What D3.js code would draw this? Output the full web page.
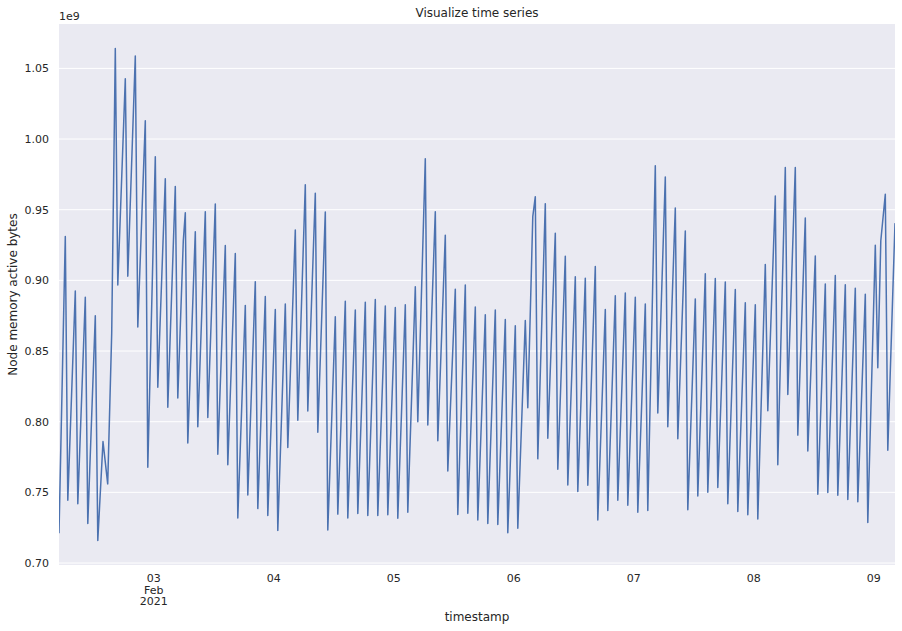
<!DOCTYPE html>
<html><head><meta charset="utf-8">
<script src="https://cdn.jsdelivr.net/npm/d3@7"></script>
<style>
body{margin:0;background:#fff}
svg{display:block}
text{font-family:"DejaVu Sans",sans-serif;fill:#262626}
</style>
</head><body>
<svg id="chart" width="902" height="631"></svg>
<script>
const title = "Visualize time series";
const xLabel = "timestamp";
const yLabel = "Node memory active bytes";
const offsetLabel = "1e9";
const baseTime = Date.UTC(2021, 1, 3); // 2021-02-03 00:00
// sample times, in hours from 2021-02-03 00:00
const hours = [
  -18.86,
  -17.6, -17.1, -15.6, -15.1, -13.6, -13.1, -11.6, -11.1,
  -10.06, -9.12, -8.32,
  -7.6, -7.1, -5.6, -5.1, -3.6, -3.1, -1.6, -1.1,
  0.4, 0.9, 2.4, 2.9, 4.4, 4.9, 6.0,
  6.4, 6.9, 8.4, 8.9, 10.4, 10.9, 12.4, 12.9, 14.4, 14.9, 16.4, 16.9, 18.4, 18.9,
  20.4, 20.9, 22.4, 22.9, 24.4, 24.9, 26.4, 26.9, 28.4, 28.9, 30.4, 30.9,
  32.4, 32.9, 34.4, 34.9, 36.4, 36.9, 38.4, 38.9, 40.4, 40.9, 42.4, 42.9,
  44.4, 44.9, 46.4, 46.9, 48.4, 48.9, 50.4, 50.9, 52.4, 52.9, 54.4, 54.9,
  56.4, 56.9, 58.4, 58.9, 60.4, 60.9, 62.4, 62.9, 64.4, 64.9, 66.4, 66.9,
  68.4, 68.9, 70.4, 70.9, 72.4, 72.9, 74.4, 74.9, 75.9,
  76.4, 76.9, 78.4, 78.9, 80.4, 80.9, 82.4, 82.9, 84.4, 84.9, 86.4, 86.9,
  88.4, 88.9, 90.4, 90.9, 92.4, 92.9, 94.4, 94.9, 96.4, 96.9, 98.4, 98.9,
  100.4, 100.9, 102.4, 102.9, 104.4, 104.9, 106.4, 106.9, 108.4, 108.9,
  110.4, 110.9, 112.4, 112.9, 114.4, 114.9, 116.4, 116.9, 118.4, 118.9,
  120.4, 120.9, 122.4, 122.9, 124.4, 124.9, 126.4, 126.9, 128.4, 128.9,
  130.4, 130.9, 132.4, 132.9, 134.4, 134.9, 136.4, 136.9, 138.4, 138.9,
  140.4, 140.9, 142.4, 142.9, 144.4, 144.9, 145.5,
  146.4, 146.9, 148.34
];
// node memory active bytes, in units of 1e9
const valuesE9 = [
  0.721,
  0.931, 0.7445, 0.8925, 0.742, 0.888, 0.728, 0.875, 0.716,
  0.786, 0.756, 0.8626,
  1.064, 0.8967, 1.0427, 0.903, 1.0588, 0.867, 1.013, 0.7677,
  0.9874, 0.8244, 0.9719, 0.8103, 0.9665, 0.8168, 0.928,
  0.9478, 0.785, 0.9344, 0.7964, 0.9485, 0.803, 0.9541, 0.7769, 0.9247, 0.7696, 0.919, 0.7319, 0.8823, 0.7482,
  0.8991, 0.7385, 0.8886, 0.7336, 0.8794, 0.7231, 0.8833, 0.7818, 0.9356, 0.801, 0.9677, 0.8076,
  0.9616, 0.7925, 0.9483, 0.7233, 0.8743, 0.7346, 0.8852, 0.7319, 0.8791, 0.735, 0.8845, 0.7336,
  0.8864, 0.7336, 0.8818, 0.7341, 0.8808, 0.7317, 0.8828, 0.736, 0.8954, 0.80, 0.986, 0.7976,
  0.9485, 0.7866, 0.932, 0.7652, 0.8937, 0.7343, 0.8967, 0.7353, 0.8811, 0.7304, 0.8757, 0.728,
  0.8791, 0.7273, 0.8723, 0.7214, 0.8679, 0.7246, 0.8716, 0.8098, 0.9453,
  0.9592, 0.7737, 0.9543, 0.7883, 0.9334, 0.7664, 0.9171, 0.7552, 0.9025, 0.7506, 0.9015, 0.755,
  0.9098, 0.7304, 0.8794, 0.7372, 0.8891, 0.7445, 0.8911, 0.7409, 0.888, 0.736, 0.8833, 0.7372,
  0.9811, 0.8061, 0.9731, 0.7964, 0.9512, 0.7879, 0.9349, 0.7377, 0.8869, 0.7475,
  0.9047, 0.7501, 0.9013, 0.7535, 0.8988, 0.742, 0.8935, 0.7365, 0.8842, 0.7341,
  0.8828, 0.7311, 0.9113, 0.8078, 0.9597, 0.7696, 0.9799, 0.8193, 0.9799, 0.7905,
  0.9441, 0.7793, 0.9173, 0.7487, 0.8974, 0.7499, 0.9035, 0.748, 0.8969, 0.745,
  0.8945, 0.7433, 0.8901, 0.7287, 0.9249, 0.8382, 0.928,
  0.9609, 0.7798, 0.9405
];
const yTicks = [0.70, 0.75, 0.80, 0.85, 0.90, 0.95, 1.00, 1.05];
const xTickDays = [3, 4, 5, 6, 7, 8, 9];
const xTickLabels = [["03", "Feb", "2021"], ["04"], ["05"], ["06"], ["07"], ["08"], ["09"]];

const W = 902, H = 631;
const m = {left: 59, right: 7, top: 24, bottom: 66};
const iw = W - m.left - m.right, ih = H - m.top - m.bottom;

const data = hours.map((h, i) => ({t: new Date(baseTime + h * 3600e3), v: valuesE9[i]}));

const svg = d3.select("#chart");
const x = d3.scaleUtc()
  .domain(d3.extent(data, d => d.t))
  .range([m.left, m.left + iw]);
const [vmin, vmax] = d3.extent(data, d => d.v);
const pad = (vmax - vmin) * 0.05;
const y = d3.scaleLinear().domain([vmin - pad, vmax + pad]).range([m.top + ih, m.top]);

// background
svg.append("rect").attr("x", m.left).attr("y", m.top).attr("width", iw).attr("height", ih).attr("fill", "#EAEAF2");

// horizontal grid
const yAxis = d3.axisLeft(y).tickValues(yTicks).tickFormat(d3.format(".2f")).tickSize(0).tickPadding(10);
const gy = svg.append("g").attr("transform", `translate(${m.left},0)`).call(yAxis);
gy.select(".domain").remove();
gy.selectAll("text").attr("font-size", 11).attr("fill", "#262626").style("font-family", "DejaVu Sans");
svg.append("g").selectAll("line").data(yTicks).join("line")
  .attr("x1", m.left).attr("x2", m.left + iw)
  .attr("y1", d => y(d)).attr("y2", d => y(d))
  .attr("stroke", "#fff").attr("stroke-width", 1);

// x axis
const tickDates = xTickDays.map(d => new Date(Date.UTC(2021, 1, d)));
const xAxis = d3.axisBottom(x).tickValues(tickDates).tickSize(0).tickFormat(() => "");
const gx = svg.append("g").attr("transform", `translate(0,${m.top + ih})`).call(xAxis);
gx.select(".domain").remove();
gx.selectAll(".tick").each(function(d, i) {
  const t = d3.select(this).select("text").attr("y", 0).attr("dy", null).attr("font-size", 11);
  xTickLabels[i].forEach((line, j) => {
    t.append("tspan").attr("x", 0).attr("y", 17 + j * 11.5).text(line);
  });
});

// clip
svg.append("clipPath").attr("id", "clip").append("rect")
  .attr("x", m.left).attr("y", m.top).attr("width", iw).attr("height", ih);

const line = d3.line().x(d => x(d.t)).y(d => y(d.v));
svg.append("path").datum(data)
  .attr("clip-path", "url(#clip)")
  .attr("d", line)
  .attr("fill", "none")
  .attr("stroke", "#4C72B0")
  .attr("stroke-width", 1.5)
  .attr("stroke-linejoin", "round");

// texts
svg.append("text").attr("x", m.left + iw / 2).attr("y", 17).attr("text-anchor", "middle").attr("font-size", 12).text(title);
svg.append("text").attr("x", m.left + iw / 2).attr("y", 621).attr("text-anchor", "middle").attr("font-size", 12).text(xLabel);
svg.append("text").attr("transform", `translate(17,${m.top + ih / 2}) rotate(-90)`).attr("text-anchor", "middle").attr("font-size", 12).text(yLabel);
svg.append("text").attr("x", m.left).attr("y", 20).attr("font-size", 11).text(offsetLabel);
</script>
</body></html>
